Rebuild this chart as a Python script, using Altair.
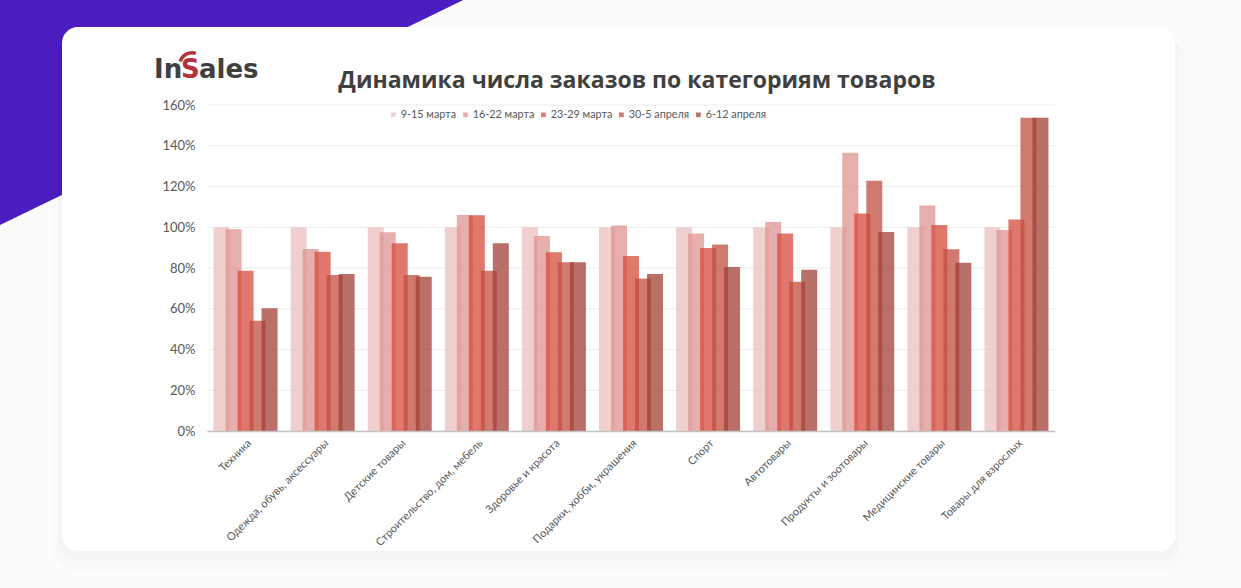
import altair as alt
import pandas as pd

categories = [
    "Техника",
    "Одежда, обувь, аксессуары",
    "Детские товары",
    "Строительство, дом, мебель",
    "Здоровье и красота",
    "Подарки, хобби, украшения",
    "Спорт",
    "Автотовары",
    "Продукты и зоотовары",
    "Медицинские товары",
    "Товары для взрослых",
]
periods = ["9-15 марта", "16-22 марта", "23-29 марта", "30-5 апреля", "6-12 апреля"]
v_9_15 = [100, 100, 100, 100, 100, 100, 100, 100, 100, 100, 100]
v_16_22 = [99.0, 89.3, 97.5, 106.0, 95.7, 100.8, 96.9, 102.6, 136.6, 110.7, 98.7]
v_23_29 = [78.7, 88.0, 92.1, 105.9, 87.7, 85.9, 89.8, 96.9, 106.7, 101.1, 103.8]
v_30_5 = [54.1, 76.6, 76.6, 78.7, 82.8, 74.9, 91.5, 73.3, 122.8, 89.2, 153.8]
v_6_12 = [60.2, 77.0, 75.7, 92.1, 82.8, 77.0, 80.5, 79.2, 97.7, 82.6, 153.8]
grid_values = [0, 20, 40, 60, 80, 100, 120, 140, 160]
colors = ["#ebbfbf", "#de9390", "#d64b3c", "#c04e40", "#a04036"]

series = [v_9_15, v_16_22, v_23_29, v_30_5, v_6_12]
rows = []
for i, c in enumerate(categories):
    for p, vals in zip(periods, series):
        rows.append({"cat": c, "period": p, "value": vals[i]})
df = pd.DataFrame(rows)

W, H = 848, 326
FONT = "Lato"
one = pd.DataFrame({"k": [0]})

yscale = alt.Scale(domain=[0, 160], nice=False)
yaxis = alt.Axis(
    values=grid_values,
    labelExpr="datum.value + '%'",
    labelFont=FONT,
    labelFontSize=13,
    labelColor="#595959",
    labelPadding=12,
    ticks=False,
    domain=False,
    grid=False,
    zindex=1,
    title=None,
)

# decorations (page background pieces)
purple = alt.Chart(one).mark_rule(color="#4b1cc0", strokeWidth=600).encode(
    x=alt.value(304.8), y=alt.value(-462.1), x2=alt.value(-518), y2=alt.value(-62.3)
)
shadow1 = alt.Chart(one).mark_rect(cornerRadius=24, color="#000000", opacity=0.012).encode(
    x=alt.value(-155), x2=alt.value(978), y=alt.value(-70), y2=alt.value(466)
)
shadow2 = alt.Chart(one).mark_rect(cornerRadius=20, color="#000000", opacity=0.015).encode(
    x=alt.value(-149), x2=alt.value(972), y=alt.value(-74), y2=alt.value(456)
)
card = alt.Chart(one).mark_rect(cornerRadius=16, color="#ffffff").encode(
    x=alt.value(-145), x2=alt.value(968), y=alt.value(-78), y2=alt.value(446)
)

grid = alt.Chart(pd.DataFrame({"g": grid_values})).mark_rule(
    color="#ececec", strokeWidth=1
).encode(
    y=alt.Y("g:Q", scale=yscale, axis=yaxis),
    x=alt.value(0),
    x2=alt.value(W),
)

bars = alt.Chart(df).mark_bar(width=16, opacity=0.75).encode(
    x=alt.X(
        "cat:N",
        sort=categories,
        title=None,
        scale=alt.Scale(paddingInner=0, paddingOuter=0),
        axis=alt.Axis(
            labelAngle=315,
            labelFont=FONT,
            labelFontSize=11,
            labelColor="#595959",
            labelPadding=6,
            ticks=False,
            domainColor="#c4c4c4",
            domainWidth=1.5,
            grid=False,
            zindex=1,
        ),
    ),
    xOffset=alt.XOffset(
        "period:N", sort=periods, scale=alt.Scale(paddingInner=0, paddingOuter=0.712)
    ),
    y=alt.Y("value:Q", scale=yscale, axis=yaxis),
    color=alt.Color(
        "period:N",
        sort=periods,
        scale=alt.Scale(domain=periods, range=colors),
        legend=alt.Legend(
            title=None,
            orient="none",
            legendX=181,
            legendY=4,
            direction="horizontal",
            labelFont=FONT,
            labelFontSize=10.8,
            labelColor="#595959",
            symbolType="square",
            symbolSize=22,
            symbolStrokeWidth=0,
            columnPadding=3,
            labelOffset=2,
        ),
    ),
)

logo_in = alt.Chart(one).mark_text(
    font="DejaVu Sans", fontWeight="bold", fontSize=26, align="left", baseline="alphabetic", color="#404040"
).encode(x=alt.value(154 - 207), y=alt.value(78 - 105), text=alt.value("In"))
logo_s = alt.Chart(one).mark_text(
    font="DejaVu Sans", fontWeight="bold", fontSize=26, align="left", baseline="alphabetic", color="#b5323c"
).encode(x=alt.value(181 - 207), y=alt.value(78 - 105), text=alt.value("S"))
logo_ales = alt.Chart(one).mark_text(
    font="DejaVu Sans", fontWeight="bold", fontSize=26, align="left", baseline="alphabetic", color="#404040"
).encode(x=alt.value(199 - 207), y=alt.value(78 - 105), text=alt.value("ales"))
swoosh = alt.Chart(one).mark_arc(
    radius=14, radius2=10.5, theta=5.0, theta2=6.6, color="#b5323c"
).encode(x=alt.value(192 - 207), y=alt.value(65 - 105))

title = alt.Chart(one).mark_text(
    font="Open Sans", fontWeight="bold", fontSize=23, align="center", baseline="alphabetic", color="#404040"
).encode(
    x=alt.value(637 - 207),
    y=alt.value(88 - 105),
    text=alt.value("Динамика числа заказов по категориям товаров"),
)

chart = alt.layer(
    purple, shadow1, shadow2, card, grid, bars, logo_in, logo_s, logo_ales, swoosh, title
).properties(
    width=W,
    height=H,
    padding={"left": 207, "top": 105, "right": 186, "bottom": 157},
    autosize=alt.AutoSizeParams(type="none"),
    background="#fcfcfc",
).configure_view(stroke=None)

chart.save("out.html", embed_options={"renderer": "svg", "actions": False})
